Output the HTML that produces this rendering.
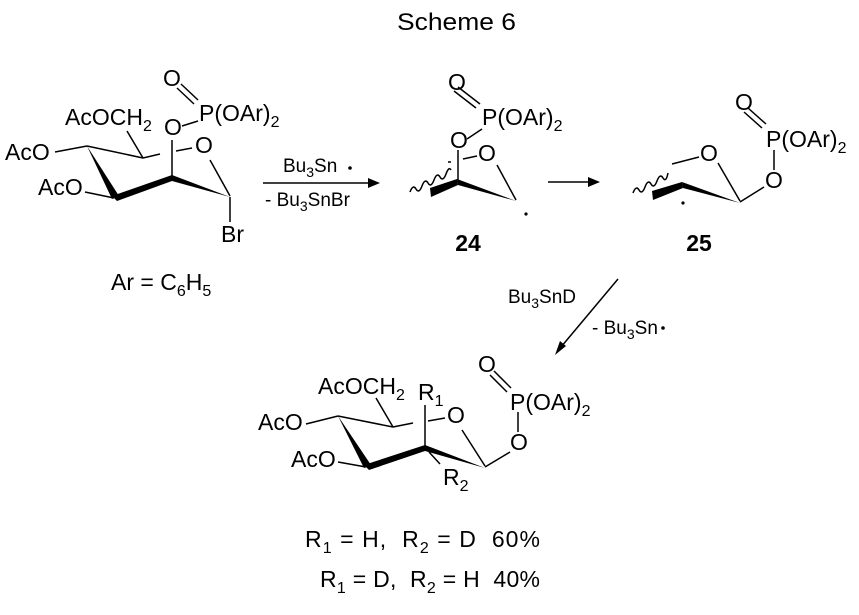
<!DOCTYPE html>
<html><head><meta charset="utf-8"><style>
body{margin:0;background:#fff}
svg{display:block}
text{font-family:"Liberation Sans",Arial,sans-serif;fill:#000;white-space:pre}
</style></head><body>
<svg width="859" height="615" viewBox="0 0 859 615" xmlns="http://www.w3.org/2000/svg" xml:space="preserve">
<g stroke="#000" stroke-width="1.5" fill="none">
<line x1="55" y1="152" x2="87" y2="146"/>
<line x1="87" y1="146" x2="143" y2="158"/>
<line x1="127" y1="131" x2="143" y2="158"/>
<line x1="143" y1="158" x2="160" y2="154"/>
<line x1="176" y1="151" x2="192" y2="148"/>
<line x1="172" y1="140" x2="172" y2="178"/>
<line x1="210" y1="160" x2="230" y2="196"/>
<line x1="230" y1="197" x2="230" y2="222"/>
<line x1="85" y1="192" x2="114" y2="198"/>
<line x1="182" y1="126" x2="198" y2="121"/>
<line x1="177" y1="88" x2="194" y2="104"/>
<line x1="181" y1="84" x2="198" y2="100"/>
<line x1="263" y1="183" x2="368" y2="183"/>
<line x1="548" y1="182" x2="592" y2="182"/>
<line x1="618" y1="279" x2="561" y2="347"/>
<line x1="458" y1="150" x2="458" y2="182"/>
<line x1="448" y1="162" x2="451" y2="162"/>
<line x1="463" y1="159" x2="477" y2="156"/>
<line x1="497" y1="165" x2="516" y2="200"/>
<line x1="467" y1="139" x2="482" y2="129"/>
<line x1="454" y1="91" x2="476" y2="108"/>
<line x1="458" y1="87" x2="480" y2="104"/>
<path d="M410,192 q3,-8 6,-3 q3,5 6,-3 q3,-8 6,-3 q3,5 6,-3 q3,-8 6,-3 q3,5 6,-3 q3,-8 5,-4"/>
<path d="M633,193 q3,-8 6,-3 q3,5 6,-3 q3,-8 6,-3 q3,5 6,-3 q3,-8 6,-3 q3,5 5,-5"/>
<line x1="672" y1="164" x2="699" y2="157"/>
<line x1="718" y1="163" x2="740" y2="201"/>
<line x1="740" y1="202" x2="764" y2="187"/>
<line x1="774" y1="150" x2="774" y2="170"/>
<line x1="744" y1="112" x2="762" y2="128"/>
<line x1="748" y1="108" x2="766" y2="124"/>
<line x1="306" y1="424" x2="338" y2="416"/>
<line x1="338" y1="416" x2="393" y2="427"/>
<line x1="376" y1="398" x2="393" y2="427"/>
<line x1="393" y1="427" x2="413" y2="423"/>
<line x1="428" y1="421" x2="445" y2="418"/>
<line x1="425" y1="405" x2="425" y2="448"/>
<line x1="429" y1="452" x2="440" y2="464"/>
<line x1="462" y1="430" x2="485" y2="466"/>
<line x1="485" y1="467" x2="510" y2="452"/>
<line x1="518" y1="412" x2="518" y2="432"/>
<line x1="490" y1="375" x2="507" y2="392"/>
<line x1="494" y1="371" x2="511" y2="388"/>
<line x1="338" y1="462" x2="366" y2="467"/>
</g>
<g fill="#000">
<polygon points="87,146 112,199 119,196"/>
<polygon points="112,196 117,201 172,181 172,175"/>
<polygon points="172,175 172,181 230,197"/>
<polygon points="368,178 380,183 368,188"/>
<polygon points="600,182 588,177 588,187"/>
<polygon points="555,355 560,341 566,346"/>
<polygon points="430,188 431,197 458,185 457,179"/>
<polygon points="457,179 458,185 516,201"/>
<circle cx="526" cy="214" r="1.6"/>
<polygon points="652,191 653,200 683,188 682,182"/>
<polygon points="682,182 683,188 740,203"/>
<circle cx="683" cy="203" r="1.6"/>
<polygon points="338,416 364,468 371,465"/>
<polygon points="364,465 369,470 425,451 425,445"/>
<polygon points="425,445 425,451 485,468"/>
<circle cx="350" cy="168" r="1.8"/>
<circle cx="663" cy="328" r="1.8"/>
</g>
<g font-size="23">
<text x="397" y="30" font-size="24" textLength="119" lengthAdjust="spacingAndGlyphs">Scheme 6</text>
<text x="163" y="86">O</text>
<text x="199" y="121">P(OAr)<tspan font-size="16" dy="6">2</tspan></text>
<text x="65" y="125">AcOCH<tspan font-size="16" dy="6">2</tspan></text>
<text x="164" y="135">O</text>
<text x="195" y="153">O</text>
<text x="5" y="160">AcO</text>
<text x="38" y="195">AcO</text>
<text x="221" y="242">Br</text>
<text x="111" y="290">Ar = C<tspan font-size="16" dy="6">6</tspan><tspan dy="-6">H</tspan><tspan font-size="16" dy="6">5</tspan></text>
<text x="283" y="172" font-size="19">Bu<tspan font-size="14" dy="5">3</tspan><tspan dy="-5">Sn</tspan></text>
<text x="265" y="206" font-size="19">- Bu<tspan font-size="14" dy="5">3</tspan><tspan dy="-5">SnBr</tspan></text>
<text x="508" y="303" font-size="19">Bu<tspan font-size="14" dy="5">3</tspan><tspan dy="-5">SnD</tspan></text>
<text x="592" y="334" font-size="19">- Bu<tspan font-size="14" dy="5">3</tspan><tspan dy="-5">Sn</tspan></text>
<text x="448" y="90">O</text>
<text x="482" y="125">P(OAr)<tspan font-size="16" dy="6">2</tspan></text>
<text x="450" y="148">O</text>
<text x="478" y="161">O</text>
<text x="468" y="251" font-weight="bold" text-anchor="middle">24</text>
<text x="735" y="110">O</text>
<text x="766" y="147">P(OAr)<tspan font-size="16" dy="6">2</tspan></text>
<text x="765" y="188">O</text>
<text x="700" y="161">O</text>
<text x="699" y="251" font-weight="bold" text-anchor="middle">25</text>
<text x="318" y="394">AcOCH<tspan font-size="16" dy="6">2</tspan></text>
<text x="418" y="400">R<tspan font-size="16" dy="6">1</tspan></text>
<text x="447" y="423">O</text>
<text x="478" y="372">O</text>
<text x="510" y="410">P(OAr)<tspan font-size="16" dy="6">2</tspan></text>
<text x="510" y="450">O</text>
<text x="258" y="430">AcO</text>
<text x="291" y="467">AcO</text>
<text x="443" y="485">R<tspan font-size="16" dy="6">2</tspan></text>
<text x="305" y="547" textLength="235" lengthAdjust="spacing">R<tspan font-size="16" dy="6">1</tspan><tspan dy="-6"> = H,  R</tspan><tspan font-size="16" dy="6">2</tspan><tspan dy="-6"> = D  60%</tspan></text>
<text x="320" y="587" textLength="220" lengthAdjust="spacing">R<tspan font-size="16" dy="6">1</tspan><tspan dy="-6"> = D,  R</tspan><tspan font-size="16" dy="6">2</tspan><tspan dy="-6"> = H  40%</tspan></text>
</g>
</svg>
</body></html>
